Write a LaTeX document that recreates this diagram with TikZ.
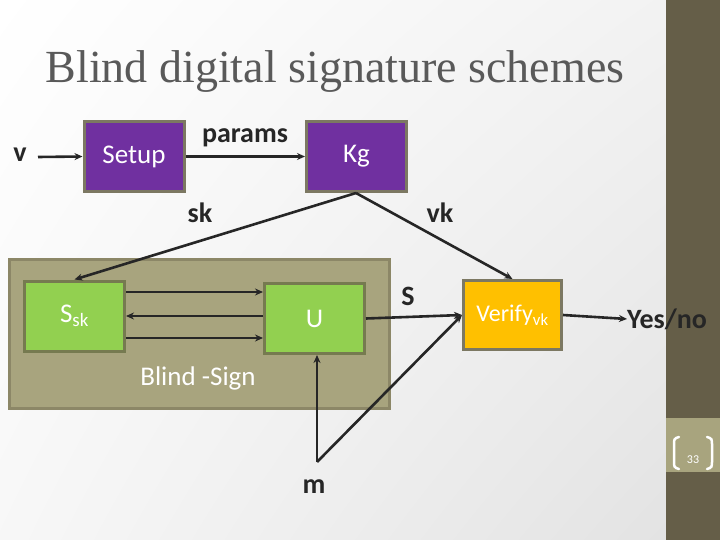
\documentclass[tikz,border=0pt]{standalone}
\usepackage{fontspec}
\setmainfont{Carlito}
\newfontfamily\titlefont{Liberation Serif}
\usetikzlibrary{arrows.meta,shadings}
\definecolor{sidebar}{HTML}{655E48}
\definecolor{pagebox}{HTML}{A8A47E}
\definecolor{outerbox}{HTML}{A8A47E}
\definecolor{outerborder}{HTML}{8C8767}
\definecolor{purplebox}{HTML}{7030A0}
\definecolor{greenbox}{HTML}{92D050}
\definecolor{goldbox}{HTML}{FFC000}
\definecolor{boxborder}{HTML}{7C7862}
\definecolor{greenborder}{HTML}{767A50}
\definecolor{titlegray}{HTML}{595959}
\definecolor{labeldark}{HTML}{262626}
\tikzset{
  blk/.style={draw=boxborder, line width=3pt, minimum width=100pt, minimum height=70pt, inner sep=0pt, text=white, font=\fontsize{27}{32}\selectfont},
  purp/.style={blk, fill=purplebox},
  grn/.style={blk, fill=greenbox, draw=greenborder},
  gold/.style={blk, fill=goldbox, minimum width=98pt, minimum height=69pt, font=\fontsize{24}{28}\selectfont},
  lbl/.style={text=labeldark, font=\fontsize{28}{32}\selectfont\bfseries, inner sep=0pt},
  conn/.style={draw=labeldark, line width=2.6pt, -{Stealth[length=8pt,width=7pt]}}
}
\begin{document}
\begin{tikzpicture}[x=1pt,y=-1pt]
\useasboundingbox (0,0) rectangle (720,540);
\shade[upper left=white, upper right=gray!10, lower left=gray!6, lower right=gray!22] (0,0) rectangle (666,540);
\fill[sidebar] (666,0) rectangle (720,540);
\fill[pagebox] (666,418) rectangle (720,472);
\draw[white, line width=2.5pt, line cap=round] (679,437) .. controls (674,438) and (674,440) .. (674,444) -- (674,462) .. controls (674,466) and (674,468) .. (679,469);
\draw[white, line width=2.5pt, line cap=round] (707,437) .. controls (712,438) and (712,440) .. (712,444) -- (712,462) .. controls (712,466) and (712,468) .. (707,469);
\node[text=white, font=\fontsize{12}{14}\selectfont, inner sep=0pt] (pg) at (693,460) {33};

\node[text=titlegray, font=\titlefont\fontsize{46}{52}\selectfont, inner sep=0pt] (title) at (335,72) {Blind digital signature schemes};

\node[draw=outerborder, fill=outerbox, line width=3pt, minimum width=380pt, minimum height=149pt, inner sep=0pt] (outer) at (199.5,334) {};

\node[purp] (setup) at (134,156.5) {Setup};
\node[purp] (kg) at (356.5,156.5) {Kg};
\node[grn] (ssk) at (74.5,316) {S\textsubscript{sk}};
\node[grn] (u) at (314.5,318.5) {U};
\node[gold] (ver) at (512.5,315) {Verify\textsubscript{vk}};

\node[lbl] (v) at (20,155) {v};
\node[lbl] (params) at (245,138) {params};
\node[lbl] (sk) at (200,213) {sk};
\node[lbl] (vk) at (440,213) {vk};
\node[lbl] (s) at (408,296) {S};
\node[lbl] (m) at (314,487) {m};
\node[lbl, anchor=west] (yes) at (627,319) {Yes/no};
\node[text=white, font=\fontsize{27}{32}\selectfont, inner sep=0pt] (bs) at (198,378) {Blind -Sign};

\coordinate (vend) at (38,157);
\coordinate (mpt) at (317,462);
\coordinate (kgb) at (356,193);

\draw[conn] (vend) -- (setup.west);
\draw[conn] (setup.east) -- (kg.west);
\draw[conn] (kgb) -- (ssk.north);
\draw[conn] (kgb) -- (ver.north);
\draw[conn] (ssk.east |- 0,292) -- (u.west |- 0,292);
\draw[conn] (u.west |- 0,316) -- (ssk.east |- 0,316);
\draw[conn] (ssk.east |- 0,338) -- (u.west |- 0,338);
\draw[conn] (u.east) -- (ver.west);
\draw[conn] (mpt) -- (mpt |- u.south);
\draw[conn] (mpt) -- (ver.west);
\draw[conn] (ver.east) -- (yes.west);
\end{tikzpicture}
\end{document}
